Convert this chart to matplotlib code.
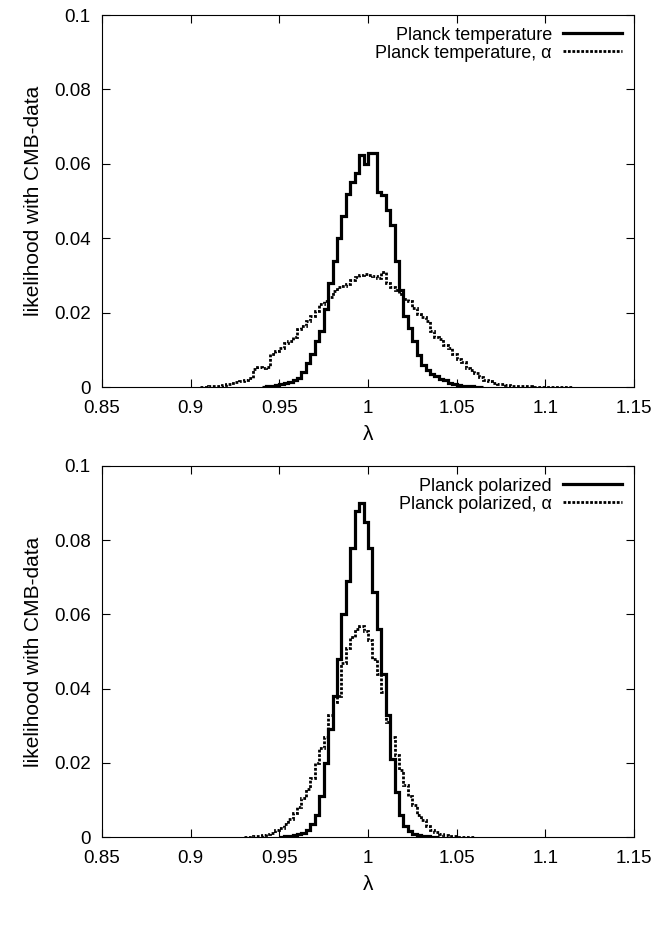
import numpy as np
import matplotlib
matplotlib.use("Agg")
import matplotlib.pyplot as plt

plt.rcParams['font.family'] = ['Liberation Sans', 'DejaVu Sans']
plt.rcParams['font.size'] = 14

bin_width = 0.0025

# top panel: Planck temperature
temp_start = 0.94
temp_vals = [0.0000, 0.0002, 0.0003, 0.0005, 0.0008, 0.0010, 0.0013, 0.0018,
             0.0025, 0.0040, 0.0065, 0.0090, 0.0125, 0.0150, 0.0210, 0.0280,
             0.0340, 0.0400, 0.0460, 0.0520, 0.0550, 0.0575, 0.0625, 0.0600,
             0.0630, 0.0628, 0.0525, 0.0515, 0.0475, 0.0435, 0.0340, 0.0260,
             0.0190, 0.0160, 0.0125, 0.0085, 0.0060, 0.0045, 0.0035, 0.0030,
             0.0022, 0.0018, 0.0012, 0.0009, 0.0006, 0.0004, 0.0003, 0.0002,
             0.0001, 0.0]

temp_alpha_start = 0.905
temp_alpha_vals = [0.0001, 0.0001, 0.0002, 0.0003, 0.0004, 0.0005, 0.0008, 0.0010,
                   0.0013, 0.0016, 0.0020, 0.0025, 0.0048, 0.0055, 0.0050, 0.0055,
                   0.0090, 0.0098, 0.0105, 0.0118, 0.0125, 0.0135, 0.0155, 0.0165,
                   0.0178, 0.0190, 0.0205, 0.0222, 0.0232, 0.0242, 0.0258, 0.0268,
                   0.0272, 0.0276, 0.0288, 0.0297, 0.0302, 0.0305, 0.0302, 0.0298,
                   0.0293, 0.0310, 0.0280, 0.0270, 0.0262, 0.0250, 0.0238, 0.0232,
                   0.0212, 0.0195, 0.0188, 0.0178, 0.0150, 0.0135, 0.0128, 0.0112,
                   0.0105, 0.0090, 0.0075, 0.0068, 0.0052, 0.0045, 0.0038, 0.0028,
                   0.0020, 0.0016, 0.0012, 0.0009, 0.0007, 0.0005, 0.0004, 0.0004,
                   0.0003, 0.0002, 0.0002, 0.0001, 0.0001, 0.0001, 0.0001, 0.00005,
                   0.00005, 0.00005, 0.00005, 0.0]

# bottom panel: Planck polarized
pol_start = 0.95
pol_vals = [0.0001, 0.0002, 0.0003, 0.0005, 0.0008, 0.0012, 0.0020, 0.0035,
            0.0060, 0.0110, 0.0200, 0.0290, 0.0380, 0.0480, 0.0600, 0.0690,
            0.0780, 0.0880, 0.0900, 0.0850, 0.0780, 0.0660, 0.0560, 0.0440,
            0.0330, 0.0210, 0.0120, 0.0060, 0.0030, 0.0015, 0.0008, 0.0005,
            0.0003, 0.0002, 0.0001, 0.0]

pol_alpha_start = 0.93
pol_alpha_vals = [0.0001, 0.0001, 0.0002, 0.0003, 0.0005, 0.0008, 0.0012, 0.0018,
                  0.0025, 0.0035, 0.0048, 0.0065, 0.0080, 0.0105, 0.0130, 0.0160,
                  0.0200, 0.0240, 0.0270, 0.0330, 0.0365, 0.0380, 0.0470, 0.0510,
                  0.0540, 0.0560, 0.0570, 0.0555, 0.0530, 0.0480, 0.0440, 0.0390,
                  0.0310, 0.0270, 0.0220, 0.0180, 0.0140, 0.0110, 0.0085, 0.0060,
                  0.0045, 0.0030, 0.0020, 0.0013, 0.0008, 0.0005, 0.0003, 0.0002,
                  0.0001, 0.0001, 0.00005, 0.0]

x_ticks = [0.85, 0.9, 0.95, 1.0, 1.05, 1.1, 1.15]
x_tick_labels = ["0.85", "0.9", "0.95", "1", "1.05", "1.1", "1.15"]
y_ticks = [0, 0.02, 0.04, 0.06, 0.08, 0.1]
y_tick_labels = ["0", "0.02", "0.04", "0.06", "0.08", "0.1"]

panels = [
    (temp_start, temp_vals, temp_alpha_start, temp_alpha_vals,
     "Planck temperature", "Planck temperature, α"),
    (pol_start, pol_vals, pol_alpha_start, pol_alpha_vals,
     "Planck polarized", "Planck polarized, α"),
]

fig = plt.figure(figsize=(6.52, 9.41), dpi=100)
axes_rects = [[0.1564, 0.5887, 0.8160, 0.3953],
              [0.1564, 0.1105, 0.8160, 0.3943]]

dotted = (0, (1.0, 0.6))

for rect, (s1, v1, s2, v2, lab1, lab2) in zip(axes_rects, panels):
    ax = fig.add_axes(rect)
    e1 = s1 + bin_width * np.arange(len(v1) + 1)
    e2 = s2 + bin_width * np.arange(len(v2) + 1)
    ax.stairs(v1, e1, color='black', linewidth=2.3, label=lab1)
    ax.stairs(v2, e2, color='black', linewidth=2.0, linestyle=dotted, label=lab2)

    ax.set_xlim(0.85, 1.15)
    ax.set_ylim(0, 0.1)
    ax.set_xticks(x_ticks)
    ax.set_xticklabels(x_tick_labels)
    ax.set_yticks(y_ticks)
    ax.set_yticklabels(y_tick_labels)
    ax.tick_params(direction='in', length=6, width=0.8, top=True, right=True,
                   labelsize=13.5)
    ax.tick_params(axis='y', pad=8)
    ax.tick_params(axis='x', pad=9)
    for sp in ax.spines.values():
        sp.set_linewidth(0.8)
    ax.set_xlabel("λ", fontsize=15, labelpad=6)
    ax.set_ylabel("likelihood with CMB-data", fontsize=15, labelpad=8)

    leg = ax.legend(loc='upper right', frameon=False, markerfirst=False,
                    handlelength=3.3, fontsize=13, borderaxespad=0.25,
                    labelspacing=0.05, handletextpad=0.6)
    for t in leg.get_texts():
        t.set_ha('right')

fig.savefig("out.png", dpi=100)
